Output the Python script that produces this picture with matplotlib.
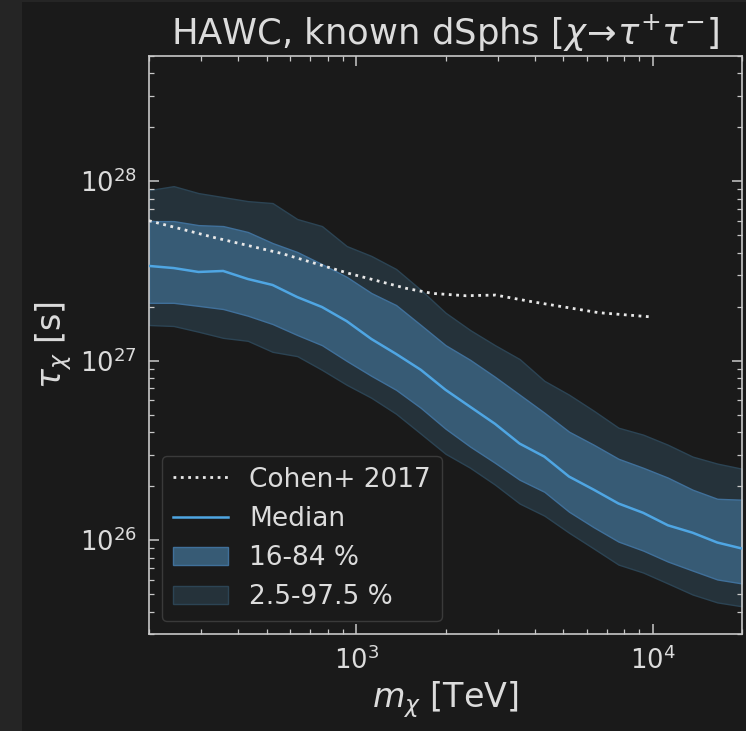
import matplotlib
matplotlib.use("Agg")
import matplotlib.pyplot as plt
from matplotlib.patches import Rectangle
from matplotlib.lines import Line2D
from matplotlib.patches import Patch
from matplotlib.ticker import LogLocator, NullFormatter

# ---- data ----
mass = [200, 242.3, 293.6, 355.7, 430.9, 522.1, 632.5, 766.3, 928.4, 1124.8,
        1362.7, 1651.0, 2000, 2423, 2936, 3557, 4309, 5221, 6325, 7663,
        9283, 11247, 13627, 16510, 20000]

upper_975 = [8.91e27, 9.38e27, 8.58e27, 8.15e27, 7.74e27, 7.55e27, 6.15e27, 5.62e27,
             4.35e27, 3.83e27, 3.24e27, 2.48e27, 1.85e27, 1.48e27, 1.22e27, 1.02e27,
             7.72e26, 6.46e26, 5.26e26, 4.23e26, 3.87e26, 3.40e26, 2.92e26, 2.67e26, 2.50e26]

upper_84 = [5.99e27, 5.99e27, 5.69e27, 5.62e27, 5.21e27, 4.52e27, 4.03e27, 3.45e27,
            2.93e27, 2.38e27, 2.04e27, 1.58e27, 1.22e27, 1.01e27, 8.13e26, 6.46e26,
            5.13e26, 4.02e26, 3.40e26, 2.84e26, 2.53e26, 2.23e26, 1.91e26, 1.70e26, 1.68e26]

median = [3.37e27, 3.28e27, 3.12e27, 3.16e27, 2.85e27, 2.64e27, 2.26e27, 1.99e27,
          1.66e27, 1.32e27, 1.09e27, 8.89e26, 6.88e26, 5.53e26, 4.45e26, 3.45e26,
          2.92e26, 2.26e26, 1.91e26, 1.60e26, 1.42e26, 1.21e26, 1.10e26, 9.70e25, 8.98e25]

lower_16 = [2.10e27, 2.10e27, 2.02e27, 1.94e27, 1.78e27, 1.60e27, 1.39e27, 1.22e27,
            9.97e26, 8.23e26, 6.88e26, 5.46e26, 4.18e26, 3.32e26, 2.70e26, 2.17e26,
            1.86e26, 1.44e26, 1.18e26, 9.82e25, 8.75e25, 7.60e25, 6.77e25, 6.04e25, 5.74e25]

lower_25 = [1.58e27, 1.56e27, 1.45e27, 1.34e27, 1.29e27, 1.12e27, 1.06e27, 8.89e26,
            7.34e26, 6.21e26, 5.06e26, 3.92e26, 3.03e26, 2.53e26, 2.04e26, 1.60e26,
            1.37e26, 1.10e26, 8.98e25, 7.31e25, 6.60e25, 5.74e25, 4.98e25, 4.50e25, 4.28e25]

cohen_mass = [200, 334, 559, 940, 1472, 1803, 2339, 2951, 3914, 6577, 10000]
cohen_tau = [6.02e27, 4.84e27, 3.96e27, 3.07e27, 2.53e27, 2.37e27, 2.30e27, 2.32e27,
             2.13e27, 1.85e27, 1.75e27]

title = r"HAWC, known dSphs [$\chi\!\rightarrow\!\tau^{+}\tau^{-}$]"
xlabel = r"$m_\chi$ [TeV]"
ylabel = r"$\tau_\chi$ [s]"
legend_labels = ["Cohen+ 2017", "Median", "16-84 %", "2.5-97.5 %"]

# ---- style ----
BG = "#1a1a1a"
FG = "#dcdcdc"
DARK_FILL = "#25323a"
DARK_EDGE = "#2c4454"
LIGHT_FILL = "#375b75"
LIGHT_EDGE = "#40709a"
MED = "#4fa6e3"

plt.rcParams["mathtext.fontset"] = "dejavusans"
plt.rcParams["font.family"] = ["DejaVu Sans"]

fig = plt.figure(figsize=(7.46, 7.31), dpi=100, facecolor=BG)
fig.patches.append(Rectangle((0, 0), 22 / 746, 1, transform=fig.transFigure,
                             facecolor="#252525", edgecolor="none", zorder=-10))
fig.patches.append(Rectangle((0, 1 - 2 / 731), 1, 2 / 731, transform=fig.transFigure,
                             facecolor="#252525", edgecolor="none", zorder=-10))

ax = fig.add_axes([149 / 746, 1 - 634 / 731, (742 - 149) / 746, (634 - 55.7) / 731])
ax.set_facecolor(BG)

ax.fill_between(mass, lower_25, upper_975, facecolor=DARK_FILL, edgecolor=DARK_EDGE,
                linewidth=1.0, zorder=1)
ax.fill_between(mass, lower_16, upper_84, facecolor=LIGHT_FILL, edgecolor=LIGHT_EDGE,
                linewidth=1.0, zorder=2)
ax.plot(mass, median, color=MED, linewidth=1.8, zorder=3)
ax.plot(cohen_mass, cohen_tau, color="#e8e8e8", linestyle=":", linewidth=2.0, zorder=4)

ax.set_xscale("log")
ax.set_yscale("log")
ax.set_xlim(200, 20000)
ax.set_ylim(3e25, 5e28)

for s in ax.spines.values():
    s.set_color("#c8c8c8")
    s.set_linewidth(1.2)

ax.tick_params(which="both", direction="in", top=True, right=True, colors="#c8c8c8",
               labelcolor=FG, labelsize=18.5)
ax.tick_params(which="major", length=7, width=1.1, pad=9)
ax.tick_params(which="minor", length=3.5, width=0.9)
ax.yaxis.set_minor_locator(LogLocator(base=10, subs=range(2, 10), numticks=20))
ax.xaxis.set_minor_locator(LogLocator(base=10, subs=range(2, 10), numticks=20))
ax.xaxis.set_minor_formatter(NullFormatter())
ax.yaxis.set_minor_formatter(NullFormatter())

ax.set_title(title, color=FG, fontsize=25.5, pad=8)
ax.set_xlabel(xlabel, color=FG, fontsize=24, labelpad=3)
ax.set_ylabel(ylabel, color=FG, fontsize=24, labelpad=4)

handles = [
    Line2D([], [], color="#e8e8e8", linestyle=":", linewidth=2.0),
    Line2D([], [], color=MED, linewidth=1.8),
    Patch(facecolor=LIGHT_FILL, edgecolor=LIGHT_EDGE, linewidth=1.0),
    Patch(facecolor=DARK_FILL, edgecolor=DARK_EDGE, linewidth=1.0),
]
leg = ax.legend(handles, legend_labels, loc="lower left", fontsize=19,
                frameon=True, facecolor=BG, edgecolor="#3a3a3a", framealpha=1.0,
                labelcolor=FG, handlelength=2.1)
leg.get_frame().set_linewidth(1.0)

fig.savefig("out.png", dpi=100, facecolor=BG)
